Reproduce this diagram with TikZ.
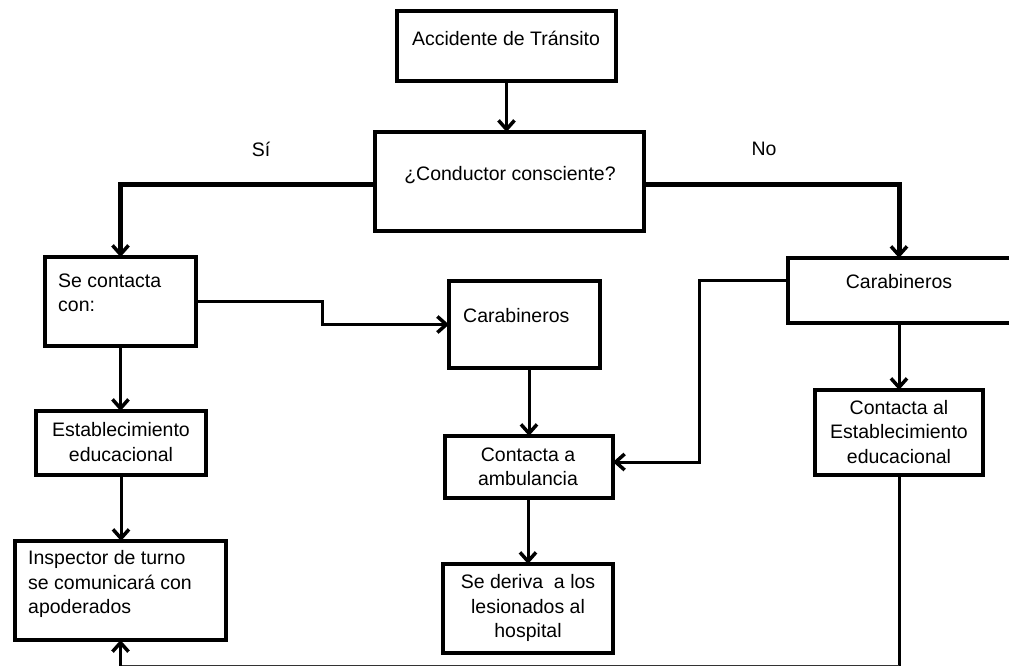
\documentclass[tikz,border=0pt]{standalone}
\usepackage{fontspec}
\setmainfont{Liberation Sans}
\usetikzlibrary{arrows.meta}
\begin{document}
\begin{tikzpicture}[x=1pt,y=-1pt,
  bx/.style={draw=black,line width=4.5pt,rectangle,inner sep=0pt,outer sep=0pt},
  txt/.style={inner sep=0pt,font=\fontsize{19.5}{24.5}\selectfont},
  ctxt/.style={txt,align=center},
  ltxt/.style={txt,align=left,anchor=west},
  tipb/.style={-{Straight Barb[length=9pt,width=16pt,line width=3.5pt]}},
  conn/.style={draw=black,line width=3pt,tipb},
  plain/.style={draw=black,line width=3pt},
  branch/.style={draw=black,line width=5pt,-{Straight Barb[length=9pt,width=16pt,line width=3.5pt]}},
  thinret/.style={draw=black!80,line width=1.5pt}
]
\useasboundingbox (0,0) rectangle (1009,667);
\clip (0,0) rectangle (1009,667);

% boxes
\node[bx,minimum width=219pt,minimum height=70pt] (A) at (506.5,46) {};
\node[bx,minimum width=269pt,minimum height=99pt] (B) at (509.5,181.5) {};
\node[bx,minimum width=151pt,minimum height=89pt] (C) at (120.5,301.5) {};
\node[bx,minimum width=151pt,minimum height=87pt] (D) at (524.5,324.5) {};
\node[bx,minimum width=168pt,minimum height=62pt] (E) at (529,467) {};
\node[bx,minimum width=242pt,minimum height=65pt] (F) at (909,290.5) {};
\node[bx,minimum width=170pt,minimum height=89pt] (G) at (528,608.5) {};
\node[bx,minimum width=168pt,minimum height=85pt] (H) at (899,432.5) {};
\node[bx,minimum width=211pt,minimum height=99pt] (I) at (120.5,590.5) {};
\node[bx,minimum width=170pt,minimum height=64pt] (J) at (121,443) {};

% texts
\node[ctxt] (At) at (506,38) {Accidente de Tránsito};
\node[ctxt] (Bt) at (510,175) {¿Conductor consciente?};
\node[ctxt] (si) at (261,149) {Sí};
\node[ctxt] (no) at (764,149) {No};
\node[ltxt] (Ct) at (58,293) {Se contacta\\con:};
\node[ltxt] (Dt) at (463,316) {Carabineros};
\node[ctxt] (Et) at (528,467) {Contacta a\\ambulancia};
\node[ctxt] (Ft) at (899,282) {Carabineros};
\node[ctxt] (Gt) at (528,608) {Se deriva\ \ a los\\lesionados al\\hospital};
\node[ctxt] (Ht) at (899,432) {Contacta al\\Establecimiento\\educacional};
\node[ltxt] (It) at (28,584) {Inspector de turno\\se comunicará con\\apoderados};
\node[ctxt] (Jt) at (121,442) {Establecimiento\\educacional};

% connectors
\coordinate (bot) at (0,665.5);
\draw[conn] (A.south) -- (A.south |- B.north);
\draw[branch] ([yshift=-2.5pt]B.west) -| (C.north);
\draw[branch] ([yshift=-2.5pt]B.east) -| (H.north |- F.north);
\draw[conn] (C.east) -- ++(126,0) |- (D.west);
\draw[conn] (E.north |- D.south) -- (E.north);
\draw[conn] ([yshift=10.5pt]F.west) -- ++(-89,0) |- ([yshift=5pt]E.east);
\draw[conn] (G.north |- E.south) -- (G.north);
\draw[conn] (H.north |- F.south) -- (H.north);
\draw[conn] (C.south) -- (C.south |- J.north);
\draw[conn] (J.south) -- (J.south |- I.north);
\draw[plain] (H.south) -- (H.south |- bot);
\draw[thinret] (H.south |- bot) -- (I.south |- bot);
\draw[conn] (I.south |- bot) -- (I.south);
\end{tikzpicture}
\end{document}
